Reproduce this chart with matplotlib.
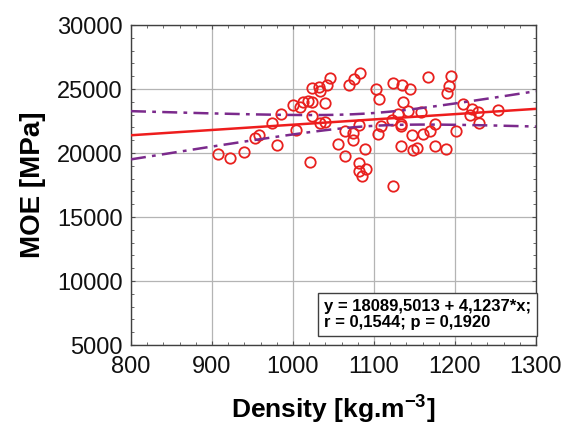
import numpy as np
import matplotlib
matplotlib.use("Agg")
import matplotlib.pyplot as plt
from matplotlib.ticker import MultipleLocator

plt.rcParams['font.family'] = ['Liberation Sans', 'DejaVu Sans']
plt.rcParams['mathtext.fontset'] = 'custom'
plt.rcParams['mathtext.rm'] = 'Liberation Sans'
plt.rcParams['mathtext.bf'] = 'Liberation Sans:bold'

# Wood density vs. modulus of elasticity
density = [908, 922, 940, 953, 958, 974, 980, 985, 1000, 1004, 1009, 1013, 1018,
           1021, 1023, 1024, 1024, 1032, 1033, 1033, 1039, 1039, 1042, 1046, 1056,
           1064, 1064, 1069, 1074, 1074, 1076, 1081, 1081, 1082, 1083, 1085, 1090,
           1089, 1102, 1106, 1105, 1109, 1122, 1124, 1124, 1130, 1133, 1134, 1133,
           1135, 1136, 1142, 1144, 1147, 1148, 1153, 1158, 1160, 1167, 1169, 1175,
           1176, 1189, 1190, 1193, 1195, 1201, 1210, 1219, 1221, 1229, 1230, 1253]
moe = [19900, 19590, 20060, 21150, 21380, 22370, 20620, 23070, 23740, 21770, 23600,
       24010, 24080, 19320, 25110, 23960, 22880, 25180, 24850, 22380, 22460, 23880,
       25310, 25880, 20680, 21730, 19770, 25310, 21530, 21040, 25770, 22190, 18600,
       19200, 26230, 18240, 18770, 20300, 24980, 24200, 21500, 22080, 22550, 25500,
       17400, 23020, 22300, 22120, 20570, 25320, 23960, 23250, 24990, 21400, 20210,
       20410, 23220, 21450, 25910, 21700, 20560, 22230, 20290, 24690, 25230, 26030,
       21730, 23830, 22960, 23450, 23180, 22320, 23360]

intercept = 18089.5013
slope = 4.1237
r_value = 0.1544
p_value = 0.1920

x = np.asarray(density, float)
y = np.asarray(moe, float)
n = len(x)

# 95% confidence band of the fitted line
xs = np.linspace(800, 1300, 200)
fit = intercept + slope * xs
resid = y - (intercept + slope * x)
s = np.sqrt(np.sum(resid ** 2) / (n - 2))
sxx = np.sum((x - x.mean()) ** 2)
t_crit = 1.994
hw = t_crit * s * np.sqrt(1.0 / n + (xs - x.mean()) ** 2 / sxx)

fig = plt.figure(figsize=(5.75, 4.26), dpi=100)
ax = fig.add_axes([0.2278, 0.190, 0.7042, 0.7513])

ax.grid(True, color='#b4b4b4', linewidth=0.9, zorder=0)
ax.plot(x, y, linestyle='none', marker='o', markersize=7.5, markerfacecolor='none',
        markeredgecolor='#e8201e', markeredgewidth=1.3, zorder=3)
ax.plot(xs, fit, color='#ee1d1d', linewidth=1.8, zorder=4)
dashdot = (0, (6, 2.5, 1.5, 2.5))
ax.plot(xs, fit + hw, color='#7b2a8c', linewidth=1.8, linestyle=dashdot, zorder=4)
ax.plot(xs, fit - hw, color='#7b2a8c', linewidth=1.8, linestyle=dashdot, zorder=4)

ax.set_xlim(800, 1300)
ax.set_ylim(5000, 30000)
ax.xaxis.set_major_locator(MultipleLocator(100))
ax.xaxis.set_minor_locator(MultipleLocator(20))
ax.yaxis.set_major_locator(MultipleLocator(5000))
ax.yaxis.set_minor_locator(MultipleLocator(1000))
ax.tick_params(which='both', direction='in', top=True, right=True, color='#505050')
ax.tick_params(which='major', length=3, width=0.8)
ax.tick_params(which='minor', length=2, width=0.6)
ax.tick_params(axis='x', labelsize=17, pad=8, labelcolor='#111111')
ax.tick_params(axis='y', labelsize=17, pad=6, labelcolor='#111111')
for sp in ax.spines.values():
    sp.set_color('#404040')
    sp.set_linewidth(1.0)

ax.set_xlabel(r'Density [kg.m$^{\mathbf{-3}}$]', fontsize=19, fontweight='bold', labelpad=10)
ax.set_ylabel('MOE [MPa]', fontsize=20, fontweight='bold', labelpad=8)

txt = (f"y = {intercept:.4f} + {slope:.4f}*x;\n"
       f"r = {r_value:.4f}; p = {p_value:.4f}").replace('.', ',')
ax.text(0.988, 0.046, txt, transform=ax.transAxes, ha='right', va='bottom',
        multialignment='left', fontsize=12, fontweight='bold', linespacing=1.15,
        zorder=5,
        bbox=dict(boxstyle='square,pad=0.35', facecolor='white',
                  edgecolor='#404040', linewidth=1.0))

fig.savefig('out.png', dpi=100)
